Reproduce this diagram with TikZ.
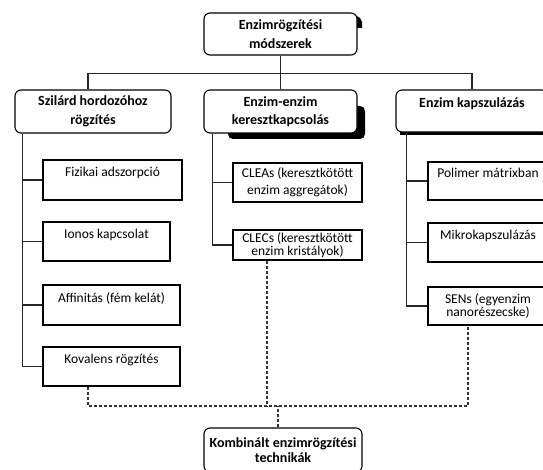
\documentclass[tikz,border=0pt]{standalone}
\usepackage{fontspec}
\setmainfont{Carlito}

\begin{document}
\begin{tikzpicture}[x=1pt,y=-1pt,
    fobox/.style={draw,line width=1.1pt,rounded corners=6pt,fill=white,inner sep=0pt,
      align=center,font=\fontsize{14}{18.5}\selectfont\bfseries},
    agbox/.style={draw,line width=1.1pt,fill=white,inner sep=0pt,align=center,
      font=\fontsize{13.5}{15}\selectfont},
    felso/.style={text height=9pt,text depth=15pt},
    vonal/.style={line width=1.1pt,draw=black!85},
    szagg/.style={line width=1.2pt,draw=black!80,dash pattern=on 3pt off 2pt}]
    \useasboundingbox (0,0) rectangle (543,470);
    \clip (0,0) rectangle (543,470);

    \fill (355,15) -- (360,18) -- (362,22) -- (362,28) -- (355,28) -- cycle;
    \fill[rounded corners=5pt] (228,106) rectangle (365,139);
    \fill (400,127) rectangle (548,135);

    \node[fobox,minimum width=153,minimum height=42] (fo) at (280.5,34)
      {Enzimrögzítési\\módszerek};

    \node[fobox,minimum width=156,minimum height=43] (szilard) at (93,111.5)
      {Szilárd hordozóhoz\\rögzítés};
    \node[fobox,minimum width=153,minimum height=43] (keresztk) at (280.5,111.5)
      {Enzim-enzim\\keresztkapcsolás};
    \node[fobox,minimum width=152,minimum height=42,text height=10pt,text depth=16pt]
      (kapszula) at (472,111) {Enzim kapszulázás};

    \node[agbox,felso,minimum width=139,minimum height=40] (fizikai) at (112.5,180)
      {Fizikai adszorpció};
    \node[agbox,felso,minimum width=127,minimum height=39] (ionos) at (106.5,241.5)
      {Ionos kapcsolat};
    \node[agbox,felso,minimum width=137,minimum height=40] (affinitas) at (111.5,305)
      {Affinitás (fém kelát)};
    \node[agbox,felso,minimum width=137,minimum height=39] (kovalens) at (111.5,366.5)
      {Kovalens rögzítés};

    \node[agbox,minimum width=129,minimum height=39] (cleas) at (297.5,182.5)
      {CLEAs (keresztkötött\\[2pt]enzim aggregátok)};
    \node[agbox,minimum width=129,minimum height=30,font=\fontsize{13.5}{13}\selectfont]
      (clecs) at (297.5,245) {CLECs (keresztkötött\\enzim kristályok)};

    \node[agbox,felso,minimum width=120,minimum height=38] (polimer) at (488,181)
      {Polimer mátrixban};
    \node[agbox,felso,minimum width=120,minimum height=39] (mikro) at (488,242.5)
      {Mikrokapszulázás};
    \node[agbox,minimum width=120,minimum height=38,font=\fontsize{13.5}{13}\selectfont]
      (sens) at (488,306) {SENs (egyenzim\\nanorészecske)};

    \node[fobox,minimum width=158,minimum height=44,font=\fontsize{14}{15.5}\selectfont\bfseries]
      (kombinalt) at (283,450) {Kombinált enzimrögzítési\\technikák};

    \draw[vonal] (fo) -- (keresztk);
    \draw[vonal] ([xshift=-5pt]szilard.north) -- ++(0,-16) -| (kapszula.north);

    \coordinate (bal) at ([xshift=8pt]szilard.south west);
    \coordinate (kozep) at ([xshift=9pt]keresztk.south west);
    \coordinate (jobb) at ([xshift=11pt]kapszula.south west);
    \draw[vonal] (bal) |- (kovalens.west);
    \foreach \n in {fizikai,ionos,affinitas}
      \draw[vonal] (bal |- \n.west) -- (\n.west);
    \draw[vonal] (kozep) |- (clecs.west);
    \draw[vonal] (kozep |- cleas.west) -- (cleas.west);
    \draw[vonal] (jobb) |- (sens.west);
    \foreach \n in {polimer,mikro}
      \draw[vonal] (jobb |- \n.west) -- (\n.west);

    \coordinate (gyujtoB) at (88,406);
    \coordinate (gyujtoK) at (267,406);
    \coordinate (gyujtoJ) at (468,406);
    \draw[szagg] (kovalens.south -| gyujtoB) -- (gyujtoB) -- (gyujtoJ) -- (sens.south -| gyujtoJ);
    \draw[szagg] (clecs.south -| gyujtoK) -- (gyujtoK);
    \draw[szagg] ([xshift=-5pt]kombinalt.north) -- ([xshift=-5pt]kombinalt.north |- gyujtoB);
  \end{tikzpicture}
\end{document}
